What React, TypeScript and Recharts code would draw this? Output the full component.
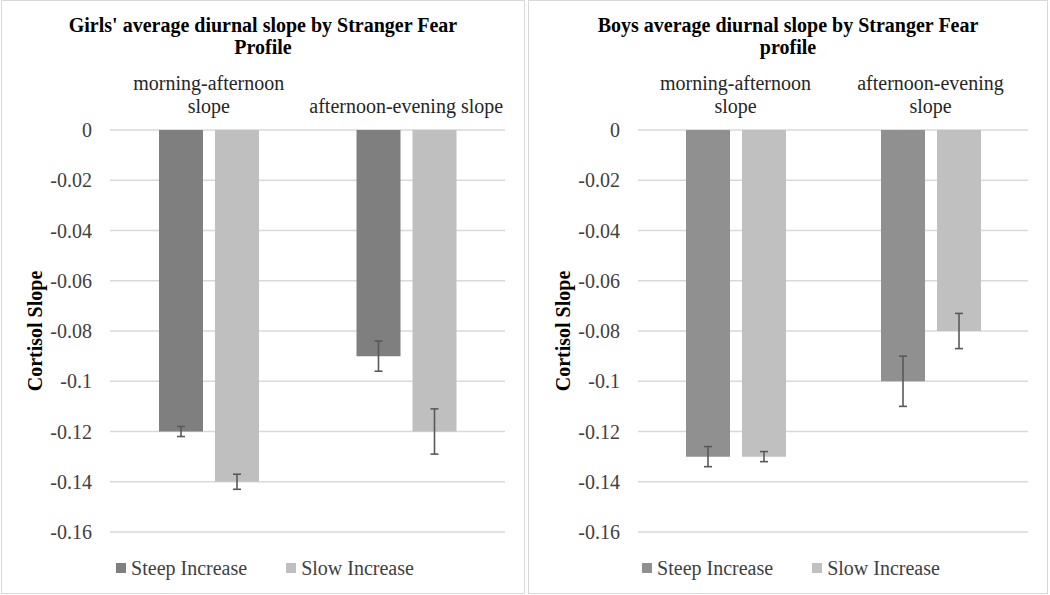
import React from "react";
import { BarChart, Bar, XAxis, YAxis, CartesianGrid, ErrorBar, Legend } from "recharts";

const FONT = '"Liberation Serif", "Times New Roman", serif';

const girlsTitle = ["Girls' average diurnal slope by Stranger Fear", "Profile"];
const boysTitle = ["Boys average diurnal slope by Stranger Fear", "profile"];

const girlsCategories = ["morning-afternoon\nslope", "afternoon-evening slope"];
const boysCategories = ["morning-afternoon\nslope", "afternoon-evening\nslope"];

const seriesNames = ["Steep Increase", "Slow Increase"];

const girlsSteep = [-0.12, -0.09];
const girlsSteepErr = [0.002, 0.006];
const girlsSlow = [-0.14, -0.12];
const girlsSlowErr = [0.003, 0.009];

const boysSteep = [-0.13, -0.1];
const boysSteepErr = [0.004, 0.01];
const boysSlow = [-0.13, -0.08];
const boysSlowErr = [0.002, 0.007];

const yTicks = [0, -0.02, -0.04, -0.06, -0.08, -0.1, -0.12, -0.14, -0.16];
const yLabel = "Cortisol Slope";

function buildData(cats: string[], steep: number[], steepErr: number[], slow: number[], slowErr: number[]) {
  return cats.map((c, i) => ({
    category: c,
    steep: steep[i],
    steepErr: steepErr[i],
    slow: slow[i],
    slowErr: slowErr[i],
  }));
}

const CategoryTick = (props: any) => {
  const { x, y, payload } = props;
  const lines = String(payload.value).split("\n");
  const n = lines.length;
  return (
    <g>
      {lines.map((ln, i) => (
        <text
          key={i}
          x={x}
          y={y - 17 - (n - 1 - i) * 23}
          textAnchor="middle"
          fontFamily={FONT}
          fontSize={20}
          fill="#262626"
        >
          {ln}
        </text>
      ))}
    </g>
  );
};

const ValueTick = (props: any) => {
  const { x, y, payload } = props;
  return (
    <text
      x={x}
      y={y}
      dy="0.355em"
      textAnchor="end"
      fontFamily={FONT}
      fontSize={20}
      fill="#404040"
    >
      {String(payload.value)}
    </text>
  );
};

const renderYLabel = (props: any) => {
  const vb = props.viewBox || { x: 49, y: 130, width: 60, height: 402 };
  const cx = vb.x - 8;
  const cy = vb.y + vb.height / 2;
  return (
    <text
      x={cx}
      y={cy}
      transform={`rotate(-90 ${cx} ${cy})`}
      textAnchor="middle"
      fontFamily={FONT}
      fontSize={20}
      fontWeight="bold"
      fill="#000"
    >
      {yLabel}
    </text>
  );
};

const LegendContent = (props: any) => {
  const { payload, shift } = props;
  const items = [...(payload || [])].sort(
    (a: any, b: any) => seriesNames.indexOf(a.value) - seriesNames.indexOf(b.value)
  );
  return (
    <div
      style={{
        display: "flex",
        justifyContent: "center",
        alignItems: "center",
        height: 24,
        fontFamily: FONT,
        fontSize: 20,
        lineHeight: "24px",
        color: "#404040",
        paddingLeft: shift,
      }}
    >
      {items.map((p: any, i: number) => (
        <div key={i} style={{ display: "flex", alignItems: "center", marginRight: i === 0 ? 39 : 0 }}>
          <span style={{ display: "inline-block", width: 10, height: 10, background: p.color, marginRight: 5 }} />
          <span>{p.value}</span>
        </div>
      ))}
    </div>
  );
};

type PanelProps = {
  left: number;
  width: number;
  title: string[];
  data: any[];
  steepColor: string;
  slowColor: string;
  marginLeft: number;
  legendShift: number;
};

const Panel = ({ left, width, title, data, steepColor, slowColor, marginLeft, legendShift }: PanelProps) => {
  const height = 594;
  return (
    <>
      <div
        style={{
          position: "absolute",
          left,
          top: 0,
          width,
          height,
          border: "1px solid #d9d9d9",
          boxSizing: "border-box",
        }}
      />
      <div
        style={{
          position: "absolute",
          left,
          top: 13.6,
          width,
          textAlign: "center",
          fontFamily: FONT,
          fontSize: 20,
          fontWeight: "bold",
          lineHeight: "22.6px",
          color: "#000",
        }}
      >
        {title.map((t, i) => (
          <div key={i}>{t}</div>
        ))}
      </div>
      <div style={{ position: "absolute", left, top: 0 }}>
        <BarChart
          width={width}
          height={height}
          data={data}
          margin={{ top: 70, right: 20, bottom: 62, left: marginLeft }}
          barSize={44}
          barGap={12}
        >
          <CartesianGrid vertical={false} stroke="#d9d9d9" strokeWidth={1.3} />
          <XAxis
            dataKey="category"
            orientation="top"
            height={60}
            axisLine={false}
            tickLine={false}
            tickSize={0}
            tickMargin={0}
            interval={0}
            tick={<CategoryTick />}
          />
          <YAxis
            type="number"
            domain={[-0.16, 0]}
            ticks={yTicks}
            width={60}
            axisLine={false}
            tickLine={false}
            tickSize={0}
            tickMargin={18}
            interval={0}
            tick={<ValueTick />}
            label={renderYLabel}
          />
          <Legend
            layout="horizontal"
            verticalAlign="middle"
            align="center"
            wrapperStyle={{ top: 556, left: 0, width }}
            content={<LegendContent shift={legendShift} />}
          />
          <Bar dataKey="steep" name={seriesNames[0]} fill={steepColor} isAnimationActive={false}>
            <ErrorBar dataKey="steepErr" width={4} stroke="#595959" strokeWidth={1.6} />
          </Bar>
          <Bar dataKey="slow" name={seriesNames[1]} fill={slowColor} isAnimationActive={false}>
            <ErrorBar dataKey="slowErr" width={4} stroke="#595959" strokeWidth={1.6} />
          </Bar>
        </BarChart>
      </div>
    </>
  );
};

export default function App() {
  const girlsData = buildData(girlsCategories, girlsSteep, girlsSteepErr, girlsSlow, girlsSlowErr);
  const boysData = buildData(boysCategories, boysSteep, boysSteepErr, boysSlow, boysSlowErr);
  return (
    <div
      style={{
        position: "fixed",
        left: 0,
        top: 0,
        width: 1050,
        height: 595,
        background: "#fff",
        overflow: "hidden",
      }}
    >
      <Panel
        left={1}
        width={524}
        title={girlsTitle}
        data={girlsData}
        steepColor="#7f7f7f"
        slowColor="#bfbfbf"
        marginLeft={49}
        legendShift={4}
      />
      <Panel
        left={528}
        width={520}
        title={boysTitle}
        data={boysData}
        steepColor="#909090"
        slowColor="#c0c0c0"
        marginLeft={50}
        legendShift={6}
      />
    </div>
  );
}
